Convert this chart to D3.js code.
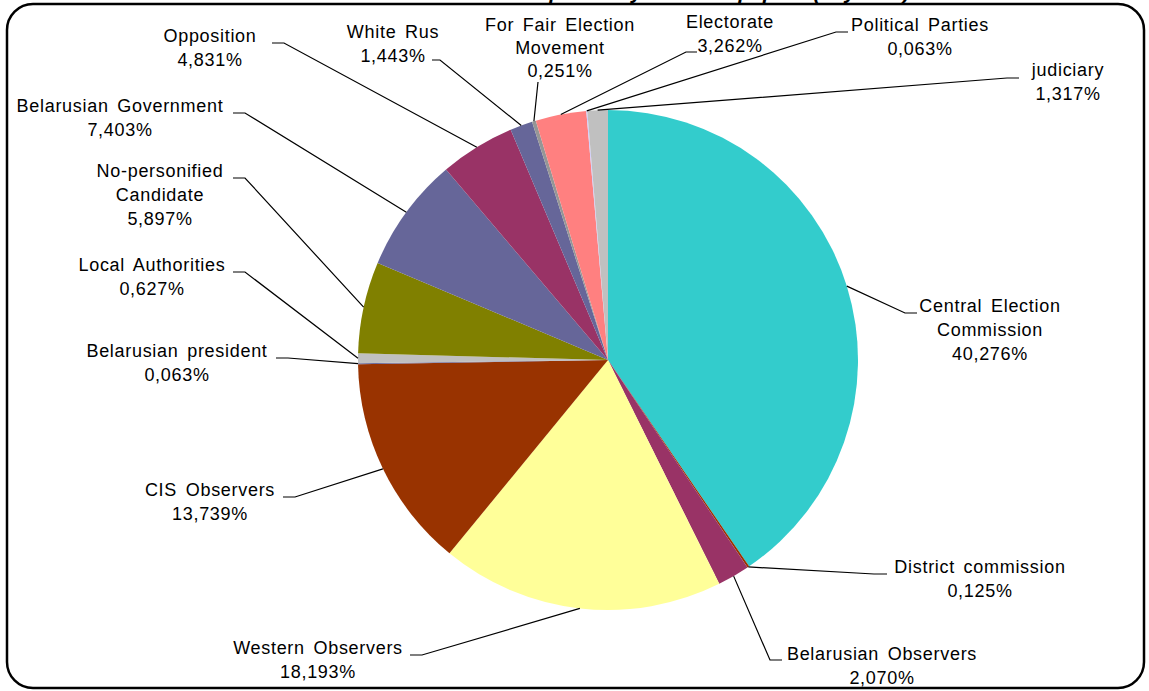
<!DOCTYPE html>
<html>
<head>
<meta charset="utf-8">
<script src="https://cdn.jsdelivr.net/npm/d3@7"></script>
<style>
    body { margin: 0; background: #fff; }
    text { font-family: "Liberation Sans", Arial, sans-serif; }
</style>
</head>
<body>
<div id="chart"></div>
<script>
// categories, clockwise from 12 o'clock
var categories = [
    "Central Election\nCommission",
    "District commission",
    "Belarusian Observers",
    "Western Observers",
    "CIS Observers",
    "Belarusian president",
    "Local Authorities",
    "No-personified\nCandidate",
    "Belarusian Government",
    "Opposition",
    "White Rus",
    "For Fair Election\nMovement",
    "Electorate",
    "Political Parties",
    "judiciary"
]
// share in percent
var shares = [40.276, 0.125, 2.070, 18.193, 13.739, 0.063, 0.627, 5.897, 7.403, 4.831, 1.443, 0.251, 3.262, 0.063, 1.317]

var colors = ["#33CCCC", "#993300", "#993366", "#FFFF99", "#993300", "#666699", "#C0C0C0", "#808000",
    "#666699", "#993366", "#666699", "#969696", "#FF8080", "#CCCCFF", "#C0C0C0"]

var title = "Actors quoted by the newspapers (Zvyazda)"

// label layout: text centre x, first baseline y, leader stub [x near text, x elbow, y]
var labelX = [990, 980, 882, 318, 210, 177, 152, 160, 120, 210, 393, 560, 730, 920, 1068]
var labelY = [312, 573, 660, 654, 496, 357, 271, 177, 112, 42, 38, 31, 28, 31, 76]
var stubs = [
    [917, 905, 313], [887, 874, 574], [782, 770, 660], [410, 422, 655], [283, 295, 497],
    [276, 288, 358], [233, 245, 272], [233, 245, 178], [233, 245, 113], [272, 284, 43],
    [432, 440, 60], [538, 538, 82], [697, 686, 52], [848, 836, 32], [1019, 1007, 78]
]

var width = 1149, height = 691
var cx = 608, cy = 360, radius = 250

var svg = d3.select("#chart").append("svg")
    .attr("width", width)
    .attr("height", height)

// title, mostly cut off by the top of the picture (as in the original)
svg.append("text")
    .attr("x", 690)
    .attr("y", -1)
    .attr("text-anchor", "middle")
    .style("font-size", "21px")
    .style("font-weight", "bold")
    .style("font-style", "italic")
    .text(title)

var data = categories.map(function (c, i) {
    return {name: c, value: shares[i], color: colors[i]}
})

var pie = d3.pie()
    .sort(null)
    .value(function (d) { return d.value })

var arc = d3.arc()
    .innerRadius(0)
    .outerRadius(radius)

var arcs = pie(data)

var g = svg.append("g")
    .attr("transform", "translate(" + cx + "," + cy + ")")

g.selectAll("path")
    .data(arcs)
    .enter().append("path")
    .attr("d", arc)
    .attr("fill", function (d) { return d.data.color })

function fmt(v) {
    return d3.format(".3f")(v).replace(".", ",") + "%"
}

// leader lines and labels
arcs.forEach(function (d, i) {
    var a = (d.startAngle + d.endAngle) / 2
    var px = cx + radius * Math.sin(a)
    var py = cy - radius * Math.cos(a)
    var s = stubs[i]

    svg.append("polyline")
        .attr("points", [[s[0], s[2]], [s[1], s[2]], [px, py]].map(function (p) { return p.join(",") }).join(" "))
        .attr("fill", "none")
        .attr("stroke", "#000")
        .attr("stroke-width", 1.2)

    var lines = d.data.name.split("\n")
    lines.push(fmt(d.data.value))
    var step = i == 11 ? 23 : 24
    var t = svg.append("text")
        .attr("text-anchor", "middle")
        .style("font-size", "18px")
        .style("letter-spacing", "0.7px")
        .style("word-spacing", "3px")
        .attr("fill", "#000")
    lines.forEach(function (l, k) {
        t.append("tspan")
            .attr("x", labelX[i])
            .attr("y", labelY[i] + k * step)
            .text(l)
    })
})

// rounded frame
svg.append("rect")
    .attr("x", 7)
    .attr("y", 4)
    .attr("width", 1137)
    .attr("height", 684)
    .attr("rx", 26)
    .attr("fill", "none")
    .attr("stroke", "#000")
    .attr("stroke-width", 2.5)
</script>
</body>
</html>
